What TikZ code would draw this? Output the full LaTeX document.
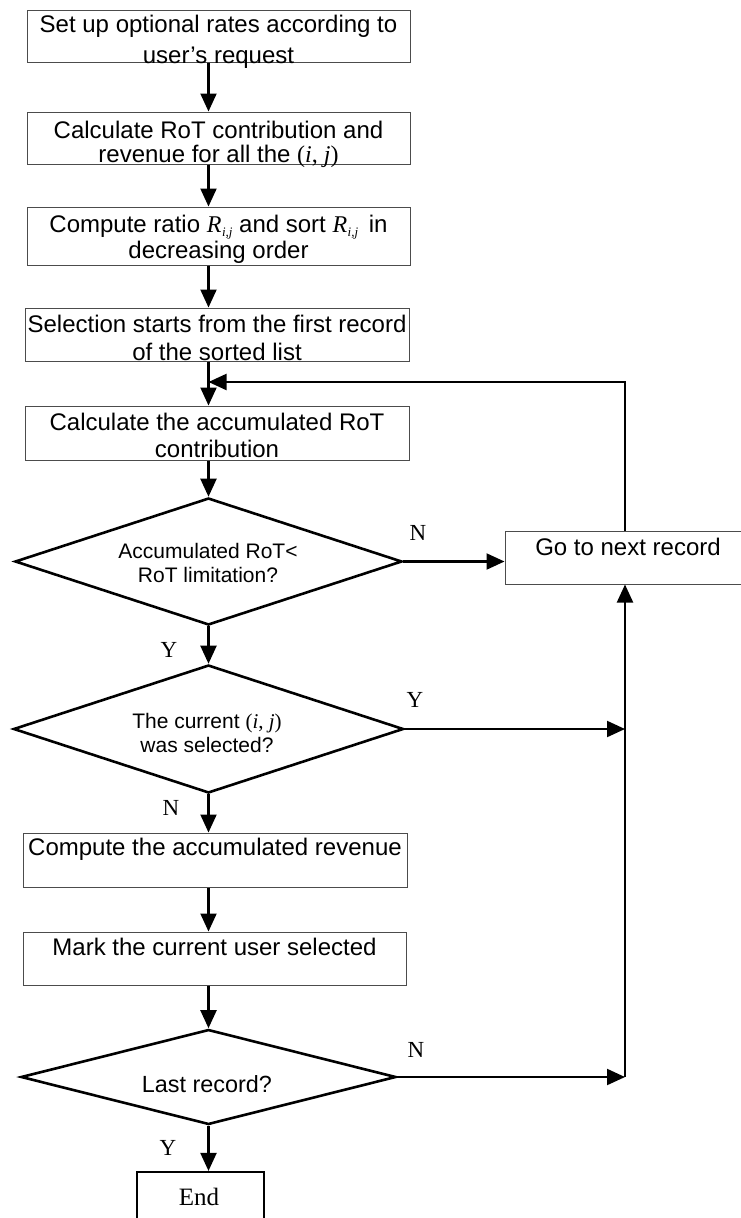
\documentclass[tikz,border=0pt]{standalone}
\usepackage{fontspec}
\setmainfont{Liberation Sans}
\newfontfamily\tnr{Liberation Serif}
\usetikzlibrary{arrows.meta,shapes.geometric}

% italic symbols set in the serif face
\newcommand{\Rij}{{\tnr\itshape R\kern0.5pt\raisebox{-0.2em}{\fontsize{13}{13}\selectfont i,j}}}
\newcommand{\ijpair}{{\tnr(\textit{i}, \textit{j})}}

\begin{document}
\begin{tikzpicture}[x=1pt,y=-1pt,
  procbox/.style={draw=black!70, line width=1pt, rectangle, inner sep=0pt},
  endbox/.style={draw=black, line width=2.2pt, rectangle, inner sep=0pt},
  decision/.style={draw=black, line width=2.6pt, diamond, inner sep=0pt},
  flow/.style={draw=black, line width=2.1pt, -{Triangle[length=18pt,width=16pt]}},
  boxtext/.style={anchor=base, font=\fontsize{24}{28}\selectfont, inner sep=0pt},
  dtext/.style={anchor=base, font=\fontsize{21}{25}\selectfont, inner sep=0pt},
  yn/.style={anchor=base, font=\tnr\fontsize{23}{26}\selectfont, inner sep=0pt}]

\useasboundingbox (0,0) rectangle (741,1218);

% process boxes
\node[procbox, minimum width=383pt, minimum height=52pt] (b1) at (218.5,36) {};
\node[procbox, minimum width=383pt, minimum height=52pt] (b2) at (218.5,138) {};
\node[procbox, minimum width=383pt, minimum height=58pt] (b3) at (218.5,236) {};
\node[procbox, minimum width=384pt, minimum height=53pt] (b4) at (217,334.5) {};
\node[procbox, minimum width=384pt, minimum height=54pt] (b5) at (217,433) {};
\node[procbox, minimum width=384pt, minimum height=54pt] (b6) at (215,860) {};
\node[procbox, minimum width=383pt, minimum height=53pt] (b7) at (214.5,958.5) {};
\node[procbox, minimum width=240pt, minimum height=53pt] (next) at (625,557.5) {};
\node[endbox, minimum width=127pt, minimum height=60pt] (stop) at (200.5,1202) {};

% decisions
\node[decision, minimum width=387pt, minimum height=127pt] (d1) at (208.5,561.5) {};
\node[decision, minimum width=390pt, minimum height=128pt] (d2) at (208.5,729) {};
\node[decision, minimum width=375pt, minimum height=95pt] (d3) at (208.5,1077) {};

% box texts
\node[boxtext] (t1a) at (218.5,32) {Set up optional rates according to};
\node[boxtext] (t1b) at (218.5,63) {user's request};
\node[boxtext] (t2a) at (218.5,138) {Calculate RoT contribution and};
\node[boxtext] (t2b) at (218.5,162) {revenue for all the \ijpair};
\node[boxtext] (t3a) at (218.5,232) {Compute ratio \Rij{} and sort \Rij{}\, in};
\node[boxtext] (t3b) at (218.5,258) {decreasing order};
\node[boxtext] (t4a) at (217,332) {Selection starts from the first record};
\node[boxtext] (t4b) at (217,360) {of the sorted list};
\node[boxtext] (t5a) at (217,430) {Calculate the accumulated RoT};
\node[boxtext] (t5b) at (217,457) {contribution};
\node[boxtext] (t6) at (215,855) {Compute the accumulated revenue};
\node[boxtext] (t7) at (214.5,955) {Mark the current user selected};
\node[boxtext] (tn) at (628,555) {Go to next record};
\node[yn, font=\tnr\fontsize{25}{28}\selectfont] (tend) at (199,1205) {End};

% decision texts
\node[dtext] (q1a) at (208,558) {Accumulated RoT<};
\node[dtext] (q1b) at (208,582) {RoT limitation?};
\node[dtext] (q2a) at (207,728) {The current \ijpair};
\node[dtext] (q2b) at (207,752) {was selected?};
\node[dtext, font=\fontsize{23.4}{26}\selectfont] (q3) at (207,1092) {Last record?};

% main column
\coordinate (join) at (208.5,382);
\draw[flow] (b1.south -| d1) -- (b2.north -| d1);
\draw[flow] (b2.south -| d1) -- (b3.north -| d1);
\draw[flow] (b3.south -| d1) -- (b4.north -| d1);
\draw[flow] (b4.south -| d1) -- (b5.north -| d1);
\draw[flow] (b5.south -| d1) -- (d1.north);
\draw[flow] (d1.south) -- (d2.north);
\draw[flow] (d2.south) -- (b6.north -| d2);
\draw[flow] (b6.south -| d2) -- (b7.north -| d2);
\draw[flow] (b7.south -| d3) -- (d3.north);
\draw[flow] (d3.south) -- (stop.north -| d3);

% loop back to the next record
\coordinate (rail2) at (d2.east -| next.south);
\coordinate (rail3) at (d3.east -| next.south);
\draw[flow] (d1.east) -- (d1.east -| next.west);
\draw[flow] (d2.east) -- (rail2);
\draw[flow] (d3.east) -- (rail3);
\draw[flow] (rail3) -- (next.south);
\draw[flow] (next.north) |- (join);

% branch labels
\node[yn] (n1) at (418,540) {N};
\node[yn] (y1) at (169,657) {Y};
\node[yn] (y2) at (415,707) {Y};
\node[yn] (n2) at (171,815) {N};
\node[yn] (n3) at (416,1057) {N};
\node[yn] (y3) at (168,1155) {Y};
\end{tikzpicture}
\end{document}
